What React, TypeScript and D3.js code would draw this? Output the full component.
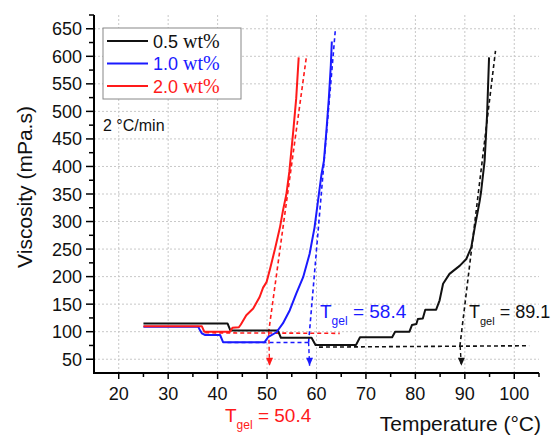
import React from "react";
import * as d3 from "d3";

const W = 553, H = 436;
const xTicks = [20, 30, 40, 50, 60, 70, 80, 90, 100];
const xMinor = [25, 35, 45, 55, 65, 75, 85, 95, 105];
const yTicks = [50, 100, 150, 200, 250, 300, 350, 400, 450, 500, 550, 600, 650];
const yMinor = [75, 125, 175, 225, 275, 325, 375, 425, 475, 525, 575, 625, 675];

const black05: [number, number][] = [
  [25, 115], [42, 115], [42.6, 102], [52.2, 102], [52.8, 89], [59, 89], [59.8, 76], [68, 76],
  [68.8, 90], [75.3, 90], [75.9, 100], [78.8, 100], [79.3, 112], [80.2, 114], [80.5, 123],
  [81.5, 124], [82, 140], [84.2, 140], [84.9, 157], [85.6, 187], [86.9, 205], [89, 220],
  [90.3, 232], [91.3, 253], [92, 289], [93, 337], [93.3, 355], [94, 410], [94.5, 494], [94.9, 598],
];
const blue10: [number, number][] = [
  [25, 109], [36.1, 109], [36.3, 105], [36.8, 97], [37.5, 94], [40.5, 94], [41.1, 81], [49.5, 81],
  [50.2, 90], [51.9, 99], [53.2, 115], [54.6, 139], [55.9, 169], [57.3, 199], [58.6, 241],
  [59.6, 289], [60.3, 337], [61, 385], [61.5, 410], [62, 464], [62.5, 524], [62.9, 584], [63.1, 627],
];
const red20: [number, number][] = [
  [25, 110], [36.8, 110], [37.3, 100], [42.5, 100], [43, 107], [44.3, 108], [44.7, 113],
  [45.8, 130], [47.2, 142], [48.5, 163], [49.2, 180], [49.9, 190], [50.6, 214], [51.6, 250],
  [52.6, 289], [53.2, 319], [53.9, 349], [54.5, 390], [55.3, 464], [55.9, 524], [56.4, 598],
];

const redTangent: [number, number][] = [[50.3, 98], [58.0, 602]];
const redBase: [number, number][] = [[37.5, 98], [64.7, 97]];
const redArrow: [number, number][] = [[50.35, 98], [50.5, 38]];
const blueTangent: [number, number][] = [[58.4, 81], [63.8, 647]];
const blueBase: [number, number][] = [[42, 80.5], [58.4, 80.5]];
const blueArrow: [number, number][] = [[58.4, 81], [58.6, 38]];
const blackTangent: [number, number][] = [[89.0, 74], [96.2, 610]];
const blackBase: [number, number][] = [[60.5, 72], [103, 74.5]];
const blackArrow: [number, number][] = [[89.05, 74], [89.3, 38]];

const legendLabels = ["0.5", "1.0", "2.0"];
const tgelValues = ["50.4", "58.4", "89.1"];

const BLACK = "#111111", BLUE = "#1a1aff", RED = "#ff1a1a";
const SANS = "Arial, 'Liberation Sans', sans-serif";
const SERIF = "'Times New Roman', 'Liberation Serif', serif";

export default function App() {
  const x = d3.scaleLinear().domain([15, 105]).range([94, 539]);
  const y = d3.scaleLinear().domain([25, 675]).range([373, 15]);
  const line = d3.line<[number, number]>().x(d => x(d[0])).y(d => y(d[1]));

  const series = [
    { data: black05, color: BLACK },
    { data: blue10, color: BLUE },
    { data: red20, color: RED },
  ];
  const dashed = [
    { d: redTangent, c: RED }, { d: redBase, c: RED },
    { d: blueTangent, c: BLUE }, { d: blueBase, c: BLUE },
    { d: blackTangent, c: BLACK }, { d: blackBase, c: BLACK },
  ];
  const arrows = [
    { d: redArrow, c: RED, id: "ar" },
    { d: blueArrow, c: BLUE, id: "ab" },
    { d: blackArrow, c: BLACK, id: "ak" },
  ];
  const legendColors = [BLACK, BLUE, RED];

  return (
    <svg width={W} height={H} style={{ position: "absolute", left: 0, top: 0, background: "#fff" }}>
      {/* grid */}
      {xTicks.map(t => (
        <line key={"gx" + t} x1={x(t)} x2={x(t)} y1={y(675)} y2={y(25)} stroke="#c8c8c8" strokeWidth={1} strokeDasharray="2,2" />
      ))}
      {yTicks.map(t => (
        <line key={"gy" + t} x1={x(15)} x2={x(105)} y1={y(t)} y2={y(t)} stroke="#c8c8c8" strokeWidth={1} strokeDasharray="2,2" />
      ))}
      {/* dashed */}
      {dashed.map((s, i) => (
        <path key={"ds" + i} d={line(s.d) || ""} fill="none" stroke={s.c} strokeWidth={1.6} strokeDasharray="4,3" />
      ))}
      {arrows.map(a => (
        <g key={"arw" + a.id}>
          <path d={line(a.d) || ""} fill="none" stroke={a.c} strokeWidth={1.4} strokeDasharray="4,3" />
          <path d={`M${x(a.d[1][0]) - 3.5},${y(a.d[1][1]) - 8} L${x(a.d[1][0]) + 3.5},${y(a.d[1][1]) - 8} L${x(a.d[1][0])},${y(a.d[1][1])} Z`} fill={a.c} />
        </g>
      ))}
      {/* series */}
      {series.map((s, i) => (
        <path key={"s" + i} d={line(s.data) || ""} fill="none" stroke={s.color} strokeWidth={2} strokeLinejoin="round" />
      ))}
      {/* axes */}
      <line x1={x(15)} x2={x(15)} y1={y(675)} y2={y(25) + 1} stroke="#000" strokeWidth={2} />
      <line x1={x(15) - 1} x2={x(105)} y1={y(25)} y2={y(25)} stroke="#000" strokeWidth={2} />
      {yTicks.map(t => (
        <g key={"yt" + t}>
          <line x1={x(15) - 8} x2={x(15)} y1={y(t)} y2={y(t)} stroke="#000" strokeWidth={1.5} />
          <text x={82} y={y(t) + 6.5} textAnchor="end" fontFamily={SANS} fontSize={18} fill="#111">{t}</text>
        </g>
      ))}
      {yMinor.map(t => (
        <line key={"ym" + t} x1={x(15) - 5} x2={x(15)} y1={y(t)} y2={y(t)} stroke="#000" strokeWidth={1.5} />
      ))}
      {xTicks.map(t => (
        <g key={"xt" + t}>
          <line x1={x(t)} x2={x(t)} y1={y(25)} y2={y(25) + 6} stroke="#000" strokeWidth={1.5} />
          <text x={x(t)} y={400} textAnchor="middle" fontFamily={SANS} fontSize={18} fill="#111">{t}</text>
        </g>
      ))}
      {xMinor.map(t => (
        <line key={"xm" + t} x1={x(t)} x2={x(t)} y1={y(25)} y2={y(25) + 4} stroke="#000" strokeWidth={1.5} />
      ))}
      {/* axis titles */}
      <text transform="translate(32,187) rotate(-90)" textAnchor="middle" fontFamily={SANS} fontSize={21} fill="#111">Viscosity (mPa.s)</text>
      <text x={541} y={431} textAnchor="end" fontFamily={SANS} fontSize={21} fill="#111">Temperature (°C)</text>
      {/* legend */}
      <rect x={103} y={28} width={138} height={71} fill="#fff" stroke="#888" strokeWidth={1} />
      {legendLabels.map((l, i) => (
        <g key={"lg" + i}>
          <line x1={107} x2={148} y1={41 + i * 22.5} y2={41 + i * 22.5} stroke={legendColors[i]} strokeWidth={2} />
          <text x={153} y={47.5 + i * 22.5} fontSize={18} fill={legendColors[i]}>
            <tspan fontFamily={SANS}>{l}</tspan>
            <tspan fontFamily={SERIF} fontSize={20}> wt%</tspan>
          </text>
        </g>
      ))}
      <text x={103} y={131} fontFamily={SANS} fontSize={16} fill="#111">2 °C/min</text>
      {/* Tgel labels */}
      <text x={225} y={422} fontFamily={SANS} fontSize={19} fill={RED}>T<tspan fontSize={12} dy={7}>gel</tspan><tspan dy={-7}> = {tgelValues[0]}</tspan></text>
      <text x={320} y={318} fontFamily={SANS} fontSize={19} fill={BLUE}>T<tspan fontSize={12} dy={7}>gel</tspan><tspan dy={-7}> = {tgelValues[1]}</tspan></text>
      <text x={469} y={318} fontFamily={SANS} fontSize={18} fill={BLACK}>T<tspan fontSize={11} dy={7}>gel</tspan><tspan dy={-7}> = {tgelValues[2]}</tspan></text>
    </svg>
  );
}
